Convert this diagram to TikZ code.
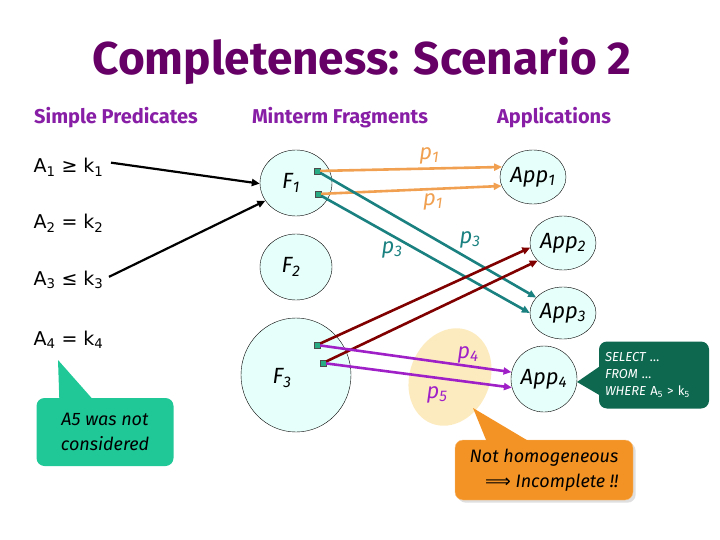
\documentclass[tikz,border=0pt]{standalone}
\usepackage{fontspec}
\setmainfont{Fira Sans}
\newfontfamily\predfont{DejaVu Sans}
\usetikzlibrary{shapes.geometric,arrows.meta,shadows}

\definecolor{titlepurple}{RGB}{102,0,102}
\definecolor{headpurple}{RGB}{135,30,165}
\definecolor{cyanfill}{RGB}{230,255,250}
\definecolor{portgreen}{RGB}{40,170,130}
\definecolor{porange}{RGB}{240,160,80}
\definecolor{pteal}{RGB}{26,128,128}
\definecolor{pred}{RGB}{128,0,0}
\definecolor{ppurple}{RGB}{160,32,200}
\definecolor{blobbeige}{RGB}{253,235,192}
\definecolor{noteorange}{RGB}{243,147,37}
\definecolor{notegreen}{RGB}{14,104,80}
\definecolor{noteteal}{RGB}{32,200,152}

\begin{document}
\begin{tikzpicture}[
        x=1pt, y=-1pt,
        every node/.style={font=\fontsize{20}{22}\selectfont},
        frag/.style={
            ellipse,
            draw,
            thin,
            fill=cyanfill,
            inner sep=0pt
        },
        port/.style={
            rectangle,
            draw=black!70,
            fill=portgreen,
            minimum size=6pt,
            inner sep=0pt
        },
        predicate/.style={font=\predfont\fontsize{19}{22}\selectfont, anchor=base west},
        heading/.style={font=\bfseries\fontsize{20}{22}\selectfont, text=headpurple, anchor=base},
        flow/.style={line width=2.6pt, -{Triangle[length=8pt,width=7pt]}},
        plabel/.style={font=\itshape\fontsize{22}{24}\selectfont},
        note/.style={rounded corners=8pt, inner sep=0pt}
    ]
    \useasboundingbox (0,0) rectangle (720,540);

    % Titles
    \node[font=\bfseries\fontsize{46}{50}\selectfont, text=titlepurple, anchor=base] (title) at (362,75) {Completeness: Scenario 2};
    \node[heading] (hpred) at (116,124) {Simple Predicates};
    \node[heading] (hfrag) at (340,124) {Minterm Fragments};
    \node[heading] (happ) at (554,124) {Applications};

    % Simple predicates
    \node[predicate] (a1) at (30,173) {A\textsubscript{1} ≥ k\textsubscript{1}};
    \node[predicate] (a2) at (30,229) {A\textsubscript{2} = k\textsubscript{2}};
    \node[predicate] (a3) at (30,285) {A\textsubscript{3} ≤ k\textsubscript{3}};
    \node[predicate] (a4) at (30,345) {A\textsubscript{4} = k\textsubscript{4}};

    % Not homogeneous area
    \node[ellipse, fill=blobbeige, minimum width=100pt, minimum height=80pt, rotate=68] (blob) at (450,377) {};

    % Fragments
    \node[frag, minimum width=72pt, minimum height=66pt] (f1) at (296,183) {};
    \node[font=\itshape\fontsize{22}{24}\selectfont] at (291,183) {F\textsubscript{1}};
    \node[frag, minimum width=72pt, minimum height=66pt] (f2) at (296,267) {};
    \node[font=\itshape\fontsize{22}{24}\selectfont] at (291,267) {F\textsubscript{2}};
    \node[frag, minimum width=110pt, minimum height=114pt] (f3) at (296,375) {};
    \node[font=\itshape\fontsize{22}{24}\selectfont] at (282,378) {F\textsubscript{3}};

    \node[port] (f1pa) at (317,171) {};
    \node[port] (f1pb) at (318,194) {};
    \node[port] (f3pa) at (317,345) {};
    \node[port] (f3pb) at (323,363) {};

    % Applications
    \node[frag, minimum width=66pt, minimum height=54pt, font=\itshape\fontsize{22}{24}\selectfont] (app1) at (533,177) {App\textsubscript{1}};
    \node[frag, minimum width=66pt, minimum height=54pt, font=\itshape\fontsize{22}{24}\selectfont] (app2) at (563,243) {App\textsubscript{2}};
    \node[frag, minimum width=66pt, minimum height=52pt, font=\itshape\fontsize{22}{24}\selectfont] (app3) at (563,313) {App\textsubscript{3}};
    \node[frag, minimum width=66pt, minimum height=66pt, font=\itshape\fontsize{22}{24}\selectfont] (app4) at (544,379) {App\textsubscript{4}};

    % Predicates to fragments
    \draw[flow, line width=2.2pt] (a1.east) ++(4,-5) coordinate (a1e) (a1e) -- (f1.181);
    \draw[flow, line width=2.2pt] (a3.east) ++(2,-3) coordinate (a3e) (a3e) -- (f1.210);

    % F1 to applications
    \draw[flow, porange] (f1pa) -- node[plabel, above, text=porange, pos=0.6] (lp1a) {p\textsubscript{1}} (app1.162);
    \draw[flow, porange] (f1pb) -- node[plabel, below, text=porange, pos=0.62] (lp1b) {p\textsubscript{1}} (app1.196);
    \draw[flow, pteal] (f1pa) -- (app3.150);
    \draw[flow, pteal] (f1pb) -- (app3.180);
    \node[plabel, text=pteal] (lp3a) at (470,240) {p\textsubscript{3}};
    \node[plabel, text=pteal] (lp3b) at (392,250) {p\textsubscript{3}};

    % F3 to applications
    \draw[flow, pred] (f3pa) -- (app2.188);
    \draw[flow, pred] (f3pb) -- (app2.215);
    \draw[flow, ppurple] (f3pa) -- (app4.168);
    \draw[flow, ppurple] (f3pb) -- (app4.195);
    \node[plabel, text=ppurple] (lp4) at (468,355) {p\textsubscript{4}};
    \node[plabel, text=ppurple] (lp5) at (437,395) {p\textsubscript{5}};

    % Notes
    \node[note, fill=noteteal, minimum width=137pt, minimum height=68pt, align=center,
          font=\itshape\fontsize{18}{25}\selectfont] (nteal) at (105,432) {A5 was not\\considered};
    \coordinate (ttip) at (58,360);
    \fill[noteteal] (ttip) -- ([xshift=23pt,yshift=-1pt]nteal.north west) -- ([xshift=56pt,yshift=-1pt]nteal.north west) -- cycle;

    \node[note, fill=noteorange, draw=noteorange!60, minimum width=178pt, minimum height=60pt, align=right,
          font=\itshape\fontsize{18}{25}\selectfont, drop shadow={opacity=0.25}] (norange) at (544,470)
          {Not homogeneous\\{\predfont\upshape ⟹} Incomplete !!};
    \coordinate (otip) at (473,408);
    \fill[noteorange] (otip) -- ([xshift=32pt,yshift=-2pt]norange.north west) -- ([xshift=75pt,yshift=-2pt]norange.north west) -- cycle;

    \node[note, fill=notegreen, minimum width=110pt, minimum height=67pt, text width=98pt, align=left, text=white,
          font=\itshape\fontsize{13}{17}\selectfont] (ngreen) at (654,375)
          {SELECT \dots\\FROM \dots\\WHERE {\upshape A\textsubscript{5} > k\textsubscript{5}}};
    \coordinate (gtip) at (577,382);
    \fill[notegreen] (gtip) -- ([xshift=1pt,yshift=-25pt]ngreen.north west) -- ([xshift=1pt,yshift=-54pt]ngreen.north west) -- cycle;

\end{tikzpicture}
\end{document}
